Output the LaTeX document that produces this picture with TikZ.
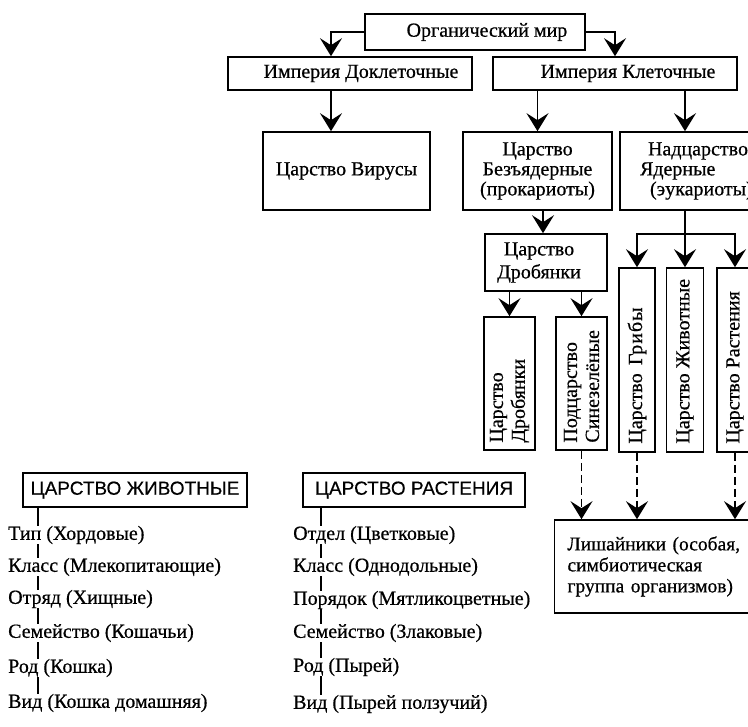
\documentclass[tikz,border=0pt]{standalone}
\usepackage{fontspec}
\setmainfont{Liberation Serif}[FakeBold=0.6]
\newfontfamily\titlefont{Liberation Sans}[FakeBold=0.4]
\usetikzlibrary{arrows.meta,calc}

\begin{document}
\begin{tikzpicture}[x=1pt,y=-1pt,
  box/.style={draw, line width=1.6pt, rectangle, inner sep=0pt,
              font=\fontsize{20}{20}\selectfont, align=center},
  vtext/.style={rotate=90, anchor=west, align=left, inner sep=0pt,
                font=\fontsize{20}{22}\selectfont},
  arr/.style={line width=1.6pt, -{Stealth[length=18pt,width=22pt,inset=7pt]}},
  dasharr/.style={arr, dash pattern=on 8pt off 4pt},
  link/.style={line width=1.3pt},
  item/.style={anchor=west, inner sep=0pt, font=\fontsize{20}{22}\selectfont},
  ktitle/.style={box, font=\titlefont\fontsize{19}{21}\selectfont,
                 minimum height=34pt},
]
\useasboundingbox (0,0) rectangle (748,727);
\clip (0,0) rectangle (748,727);

% ---- upper classification tree ----
\node[box, minimum width=220pt, minimum height=36pt] (org) at (475,32)
  {\hspace*{24pt}Органический мир};
\node[box, minimum width=244pt, minimum height=33pt] (pre) at (350,73.5)
  {\hspace*{22pt}Империя Доклеточные};
\node[box, minimum width=244pt, minimum height=33pt] (cell) at (615,73.5)
  {\hspace*{26pt}Империя Клеточные};

\node[box, minimum width=167pt, minimum height=78pt] (virus) at (346.5,171) {Царство Вирусы};
\node[box, minimum width=149pt, minimum height=78pt] (prok) at (537.5,171)
  {Царство\\Безъядерные\\(прокариоты)};
\node[box, minimum height=78pt, align=left, text width=120pt, inner xsep=20pt] (euk) at (700,171)
  {\hspace*{8pt}Надцарство\\Ядерные\\\hspace*{10pt}(эукариоты)};

\node[box, minimum width=122pt, minimum height=57pt, font=\fontsize{20}{23}\selectfont] (drob) at (546,262.5)
  {Царство\hspace*{14pt}\\Дробянки\hspace*{14pt}};

% vertical boxes
\node[box, minimum width=51pt, minimum height=133pt] (drobv) at (509.5,383.5) {};
\node[box, minimum width=51pt, minimum height=133pt] (sine) at (581.5,383.5) {};
\node[box, minimum width=36pt, minimum height=184pt] (fungi) at (637,360) {};
\node[box, minimum width=37pt, minimum height=184pt] (anim) at (685,360) {};
\node[box, minimum width=36pt, minimum height=184pt] (plant) at (735,360) {};

\node[vtext] (drobvt) at ([yshift=8pt]drobv.south) {Царство\\Дробянки};
\node[vtext] (sinet) at ([yshift=8pt]sine.south) {Подцарство\\Синезелёные};
\node[vtext] (fungit) at ([yshift=9pt]fungi.south) {Царство \,Гр\kern1pt и\kern1pt б\kern1pt ы};
\node[vtext] (animt) at ([yshift=9pt]anim.south) {Царство Животные};
\node[vtext] (plantt) at ([yshift=9pt]plant.south) {Царство Растения};

\node[box, minimum height=93pt, align=left, text width=199pt, inner xsep=13pt,
      font=\fontsize{19.5}{21}\selectfont] (lichen) at (667,566.5)
  {Лишайники (особая,\\симбиотическая\\группа организмов)};

% connectors
\coordinate (lx) at (331,0);
\coordinate (rx) at (685,0);
\coordinate (px) at (543,0);
\coordinate (brk) at (685,234);

\draw[arr] (org.west) -| (lx |- pre.north);
\draw[arr] (org.east) -| (cell.north);
\draw[arr] (lx |- pre.south) -- (lx |- virus.north);
\draw[arr] (prok.north |- cell.south) -- (prok.north);
\draw[arr] (rx |- cell.south) -- (rx |- euk.north);
\draw[arr] (px |- prok.south) -- (px |- drob.north);
\draw[arr] (drob.south -| drobv.north) -- (drobv.north);
\draw[arr] (drob.south -| sine.north) -- (sine.north);
\draw[link] (rx |- euk.south) -- (brk);
\draw[arr] (brk) -| (fungi.north);
\draw[arr] (brk) -| (plant.north);
\draw[arr] (brk) -- (anim.north);

\draw[dasharr] (sine.south) -- (sine.south |- lichen.north);
\draw[dasharr] (fungi.south) -- (fungi.south |- lichen.north);
\draw[dasharr] (plant.south) -- (plant.south |- lichen.north);

% ---- animal kingdom ranks ----
\node[ktitle, minimum width=224pt] (animk) at (135,490) {ЦАРСТВО ЖИВОТНЫЕ};
\node[item] (a1) at (8,535) {Тип (Хордовые)};
\node[item] (a2) at (8,567) {Класс (Млекопитающие)};
\node[item] (a3) at (8,599) {Отряд (Хищные)};
\node[item] (a4) at (8,633) {Семейство (Кошачьи)};
\node[item] (a5) at (8,668) {Род (Кошка)};
\node[item] (a6) at (8,703) {Вид (Кошка домашняя)};
\coordinate (ax) at (38,0);
\draw[link] (animk.south -| ax) -- (a1.north -| ax);
\foreach \i/\j in {a1/a2,a2/a3,a3/a4,a4/a5,a5/a6}
  \draw[link] (\i.south -| ax) -- (\j.north -| ax);

% ---- plant kingdom ranks ----
\node[ktitle, minimum width=222pt] (plantk) at (414,490) {ЦАРСТВО РАСТЕНИЯ};
\node[item] (p1) at (293,535) {Отдел (Цветковые)};
\node[item] (p2) at (293,567) {Класс (Однодольные)};
\node[item] (p3) at (293,600) {Порядок (Мятликоцветные)};
\node[item] (p4) at (293,633) {Семейство (Злаковые)};
\node[item] (p5) at (293,667) {Род (Пырей)};
\node[item] (p6) at (293,704) {Вид (Пырей ползучий)};
\coordinate (bx) at (321,0);
\draw[link] (plantk.south -| bx) -- (p1.north -| bx);
\foreach \i/\j in {p1/p2,p2/p3,p3/p4,p4/p5,p5/p6}
  \draw[link] (\i.south -| bx) -- (\j.north -| bx);
\end{tikzpicture}
\end{document}
